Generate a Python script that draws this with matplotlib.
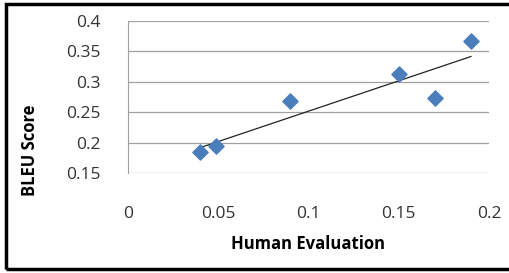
import numpy as np
import matplotlib.pyplot as plt
from matplotlib.patches import Rectangle

# data
human = [0.040, 0.049, 0.090, 0.150, 0.170, 0.190]
bleu = [0.184, 0.194, 0.268, 0.313, 0.273, 0.367]
xticks = [0, 0.05, 0.1, 0.15, 0.2]
yticks = [0.15, 0.2, 0.25, 0.3, 0.35, 0.4]

plt.rcParams['font.family'] = ['Open Sans', 'DejaVu Sans']

fig = plt.figure(figsize=(5.10, 2.73), dpi=100)
ax = fig.add_axes([128/510, 1-173/273, (489-128)/510, (173-21)/273])

ax.scatter(human, bleu, marker='D', s=60, color='#4a7ebb', zorder=3)

# linear trendline
p = np.polyfit(human, bleu, 1)
xs = np.array([min(human), max(human)])
ax.plot(xs, np.polyval(p, xs), color='#222222', lw=0.9, zorder=2)

ax.set_xlim(0, 0.2)
ax.set_ylim(0.15, 0.4)
ax.set_xticks(xticks)
ax.set_yticks(yticks)
ax.set_xticklabels(['0', '0.05', '0.1', '0.15', '0.2'])
ax.set_yticklabels(['0.15', '0.2', '0.25', '0.3', '0.35', '0.4'])
ax.tick_params(length=0, labelsize=12.5, colors='#333333')
ax.tick_params(axis='x', pad=24)
ax.tick_params(axis='y', pad=20)
ax.grid(axis='y', color='#a0a0a0', lw=0.9)
ax.set_axisbelow(True)
for s in ['top', 'right', 'bottom']:
    ax.spines[s].set_visible(False)
ax.spines['left'].set_color('#a0a0a0')

fig.text(308/510, 1-244/273, 'Human Evaluation', ha='center', va='center',
         fontsize=12, fontweight='bold')
fig.text(30/510, 1-150/273, 'BLEU Score', ha='center', va='center',
         rotation=90, fontsize=12, fontweight='bold')

fig.patches.append(Rectangle((6/510, 4/273), 508/510, 265/273,
                             transform=fig.transFigure, fill=False,
                             edgecolor='black', lw=2.5))

fig.savefig('out.png', dpi=100)
